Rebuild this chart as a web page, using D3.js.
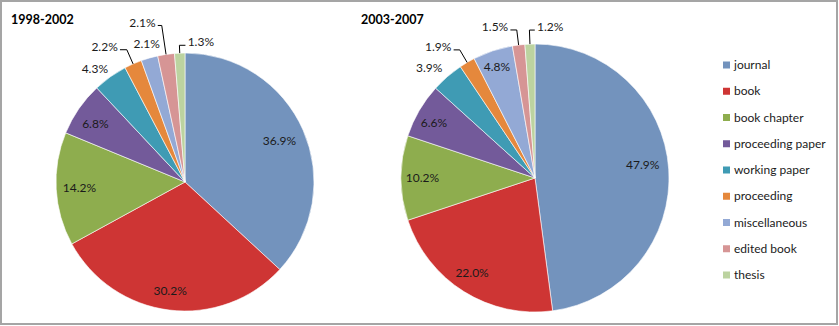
<!DOCTYPE html>
<html><head><meta charset="utf-8">
<script src="https://cdn.jsdelivr.net/npm/d3@7"></script>
<style>
html,body{margin:0;padding:0;background:#fff;}
text{font-family:Lato,"Open Sans",sans-serif;}
</style></head>
<body><svg id="c" width="839" height="326"></svg>
<script>
const categories = ["journal","book","book chapter","proceeding paper","working paper","proceeding","miscellaneous","edited book","thesis"];
const periods = ["1998-2002","2003-2007"];
const values1998 = [36.9,30.2,14.2,6.8,4.3,2.2,2.1,2.1,1.3];
const values2003 = [47.9,22.0,10.2,6.6,3.9,1.9,4.8,1.5,1.2];
const colors = ["#7393BD","#CE3534","#8EAD4E","#735A9A","#3F9BB4","#E5883C","#93A9D5","#D69595","#BCD3A0"];

// label placement (radius factor, angle offset in degrees, leader flag)
const place1998 = [[0.80,0],[0.85,0.8],[0.82,0],[0.83,-1.5],[1.125,-3],[1.22,-7,1],[1.11,0.5],[1.28,-6.5,1],[1.09,8.8,1]];
const place2003 = [[0.81,-3],[0.85,1.5],[0.84,0],[0.86,-1.6],[1.14,-3],[1.216,-6,1],[0.88,-0.5],[1.166,-7.8,1],[1.132,7.9,1]];

const svg = d3.select("#c");
svg.append("rect").attr("x",1).attr("y",1).attr("width",836).attr("height",323)
  .attr("fill","#fff").attr("stroke","#A5A5A5").attr("stroke-width",2);

const color = d3.scaleOrdinal().domain(categories).range(colors);
const pie = d3.pie().sort(null).value(d=>d.v);

function drawPie(title, values, place, cx, cy, r, tx){
  svg.append("text").attr("x",tx).attr("y",24).attr("font-size",12.5).attr("font-weight","bold")
    .attr("fill","#000").text(title);
  const g = svg.append("g").attr("transform",`translate(${cx},${cy})`);
  const data = pie(categories.map((c,i)=>({c, v:values[i]})));
  const arc = d3.arc().innerRadius(0).outerRadius(r);
  g.selectAll("path.s").data(data).join("path").attr("class","s")
    .attr("d",arc).attr("fill",d=>color(d.data.c)).attr("stroke","#fff").attr("stroke-width",0.6);
  data.forEach((d,i)=>{
    const [rf, da, leader] = place[i];
    const mid = (d.startAngle+d.endAngle)/2;
    const a = mid + da*Math.PI/180;
    const lx = Math.sin(a)*r*rf, ly = -Math.cos(a)*r*rf;
    const t = g.append("text").attr("x",lx).attr("y",ly).attr("dy","0.35em")
      .attr("text-anchor","middle").attr("font-size",12).attr("fill","#1b1b1b")
      .text(d3.format(".1f")(values[i])+"%");
    if(leader){
      const w = t.node().getBBox().width;
      const ex = Math.sin(mid)*r, ey = -Math.cos(mid)*r;
      const yy = ly+3;
      const k = (ey-yy)/Math.cos(mid);
      const bx = ex + Math.sin(mid)*k;
      const tx2 = lx < bx ? lx + w/2 + 2 : lx - w/2 - 2;
      g.append("path").attr("d",`M${ex},${ey}L${bx},${yy}L${tx2},${yy}`)
        .attr("fill","none").attr("stroke","#000").attr("stroke-width",1);
    }
  });
}
drawPie(periods[0], values1998, place1998, 185, 182, 129, 11);
drawPie(periods[1], values2003, place2003, 535, 178, 134, 361);

const leg = svg.append("g");
const ly = d3.scalePoint().domain(categories).range([65,275]);
categories.forEach(c=>{
  leg.append("rect").attr("x",723).attr("y",ly(c)-3.5).attr("width",7).attr("height",7).attr("fill",color(c));
  leg.append("text").attr("x",734).attr("y",ly(c)).attr("dy","0.35em").attr("font-size",12)
    .attr("fill","#1b1b1b").text(c);
});
</script></body></html>
